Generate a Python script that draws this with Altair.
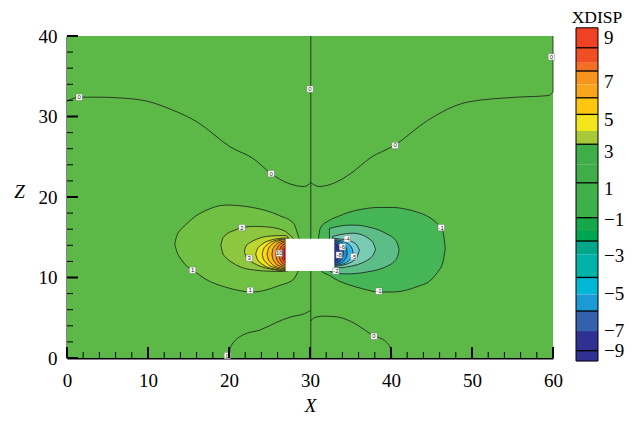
import altair as alt
import pandas as pd

# ------------------------------------------------------------------ data
x_range = [0, 60]
z_range = [0, 40]
bg_color = "#5db947"

hole_x = [27.0, 33.0]
hole_z = [10.8, 14.8]

# filled contour bands, left lobe (positive XDISP), outermost first
L1_x = [13.3, 13.6, 14.0, 14.6, 15.7, 17.1, 19.6, 22.9, 26.2, 28.0, 28.6, 29.0]
L1_top = [14.2, 15.3, 15.9, 16.5, 17.5, 18.3, 19.0, 18.7, 17.7, 16.7, 15.0, 14.0]
L1_bot = [14.2, 13.1, 12.4, 11.6, 10.8, 9.8, 8.8, 8.2, 9.0, 9.8, 10.9, 11.5]

L2_x = [19.0, 19.2, 19.6, 20.5, 21.7, 23.0, 24.5, 26.6, 27.6, 28.2]
L2_top = [14.0, 14.8, 15.3, 15.8, 16.2, 16.35, 16.3, 15.9, 15.2, 14.5]
L2_bot = [14.0, 13.1, 12.5, 11.8, 11.2, 10.95, 10.8, 10.75, 10.9, 10.9]

L3_x = [21.9, 22.1, 22.7, 23.4, 24.1, 25.2, 26.2, 27.0, 27.3]
L3_top = [13.3, 13.9, 14.4, 14.75, 15.0, 15.15, 15.2, 15.2, 15.0]
L3_bot = [13.3, 12.6, 12.0, 11.6, 11.3, 11.05, 10.9, 10.85, 10.85]

L4_x = [23.3, 23.49, 24.04, 25.15, 27.0, 27.3]
L4_top = [12.9, 13.52, 14.1, 14.64, 14.9, 14.9]
L4_bot = [12.9, 12.28, 11.7, 11.16, 10.9, 10.9]

L5_x = [24.1, 24.25, 24.68, 25.55, 27.0, 27.3]
L5_top = [12.9, 13.49, 14.04, 14.55, 14.8, 14.8]
L5_bot = [12.9, 12.31, 11.76, 11.25, 11.0, 11.0]

L6_x = [24.7, 24.82, 25.16, 25.85, 27.0, 27.3]
L6_top = [12.9, 13.46, 13.98, 14.47, 14.7, 14.7]
L6_bot = [12.9, 12.34, 11.82, 11.33, 11.1, 11.1]

L7_x = [25.3, 25.39, 25.64, 26.15, 27.0, 27.3]
L7_top = [12.9, 13.41, 13.89, 14.34, 14.55, 14.55]
L7_bot = [12.9, 12.39, 11.91, 11.46, 11.25, 11.25]

L8_x = [25.8, 25.86, 26.04, 26.4, 27.0, 27.3]
L8_top = [12.9, 13.37, 13.8, 14.2, 14.4, 14.4]
L8_bot = [12.9, 12.43, 12.0, 11.6, 11.4, 11.4]

L9_x = [26.2, 26.24, 26.36, 26.6, 27.0, 27.3]
L9_top = [12.9, 13.3, 13.68, 14.03, 14.2, 14.2]
L9_bot = [12.9, 12.5, 12.12, 11.77, 11.6, 11.6]

L10_x = [26.55, 26.57, 26.64, 26.78, 27.0, 27.3]
L10_top = [12.9, 13.23, 13.53, 13.81, 13.95, 13.95]
L10_bot = [12.9, 12.57, 12.27, 11.99, 11.85, 11.85]

L11_x = [26.8, 26.81, 26.84, 26.9, 27.0, 27.3]
L11_top = [12.9, 13.15, 13.38, 13.6, 13.7, 13.7]
L11_bot = [12.9, 12.65, 12.42, 12.2, 12.1, 12.1]

# right lobe (negative XDISP), outermost first
R1_x = [31.0, 31.3, 32.4, 33.5, 34.8, 36.5, 38.5, 40.2, 41.8, 43.3, 44.7, 45.7, 46.4, 46.7]
R1_top = [14.5, 16.2, 17.1, 17.6, 18.1, 18.5, 18.7, 18.7, 18.5, 18.1, 17.5, 16.7, 15.7, 13.6]
R1_bot = [11.5, 10.9, 10.25, 9.6, 9.1, 8.6, 8.2, 8.2, 8.4, 8.9, 9.5, 10.6, 11.9, 13.6]

R2_x = [32.4, 33.5, 34.6, 35.7, 37.1, 38.5, 39.5, 40.4, 40.8, 41.0]
R2_top = [16.1, 16.35, 16.5, 16.5, 16.3, 15.9, 15.4, 14.8, 14.2, 13.4]
R2_bot = [10.8, 10.5, 10.45, 10.5, 10.7, 11.0, 11.4, 12.0, 12.6, 13.4]

R3_x = [32.8, 33.6, 34.5, 35.3, 36.4, 37.3, 37.8, 38.1]
R3_top = [15.1, 15.3, 15.45, 15.5, 15.3, 14.8, 14.3, 13.5]
R3_bot = [11.1, 11.2, 11.3, 11.45, 11.8, 12.3, 12.8, 13.5]

R4_x = [32.8, 33.6, 34.5, 35.3, 35.8, 36.1]
R4_top = [14.9, 14.8, 14.65, 14.4, 14.0, 13.4]
R4_bot = [11.3, 11.45, 11.65, 12.05, 12.55, 13.4]

R5_x = [32.6, 33.0, 34.15, 34.84, 35.19, 35.3]
R5_top = [14.7, 14.7, 14.49, 14.06, 13.6, 13.1]
R5_bot = [11.5, 11.5, 11.71, 12.14, 12.6, 13.1]

R6_x = [32.6, 33.0, 33.8, 34.28, 34.52, 34.6]
R6_top = [14.6, 14.6, 14.4, 14.0, 13.57, 13.1]
R6_bot = [11.6, 11.6, 11.8, 12.2, 12.63, 13.1]

R7_x = [32.6, 33.0, 33.55, 33.88, 34.05, 34.1]
R7_top = [14.45, 14.45, 14.27, 13.91, 13.52, 13.1]
R7_bot = [11.75, 11.75, 11.93, 12.29, 12.68, 13.1]

R8_x = [32.6, 33.0, 33.3, 33.48, 33.57, 33.6]
R8_top = [14.25, 14.25, 14.1, 13.79, 13.45, 13.1]
R8_bot = [11.95, 11.95, 12.1, 12.41, 12.75, 13.1]

band_names = ["L1", "L2", "L3", "L4", "L5", "L6", "L7", "L8", "L9", "L10", "L11",
              "R1", "R2", "R3", "R4", "R5", "R6", "R7", "R8"]
band_colors = ["#70c044", "#8dc63f", "#bcd631", "#ede51d", "#fcd90f", "#fbbd14",
               "#f9a31a", "#f6891f", "#f26722", "#ef4723", "#ed1c24",
               "#46b556", "#5cbd86", "#7acbb4", "#74cdd6", "#2db5e5", "#1e8fd2",
               "#2c57a8", "#2e3192"]

# open contour lines
lineA_x = [0.0, 1.5, 4.0, 6.6, 9.9, 12.8, 16.1, 20.2, 23.1, 25.2, 27.6, 29.3, 30.1]
lineA_z = [31.9, 32.4, 32.4, 32.3, 31.9, 30.9, 29.3, 26.2, 24.7, 22.9, 21.6, 21.3, 21.8]
lineB_x = [30.1, 31.1, 32.9, 35.0, 37.5, 40.4, 44.5, 49.5, 55.6, 59.4, 60.0]
lineB_z = [21.8, 21.3, 21.7, 22.9, 24.9, 26.4, 29.5, 31.8, 32.4, 32.6, 33.0]
lineD_x = [20.0, 20.2, 21.8, 23.9, 25.8, 27.6, 29.3, 30.1]
lineD_z = [0.0, 1.4, 2.9, 3.5, 4.4, 5.1, 5.5, 5.9]
lineE_x = [30.1, 30.5, 31.7, 33.4, 35.5, 37.7, 39.4, 40.0, 40.1]
lineE_z = [4.6, 5.0, 5.2, 5.1, 4.3, 2.85, 2.0, 1.0, 0.0]
vline_x = [30.1, 30.1, 60.0, 60.0]
vline_z = [0.0, 40.0, 33.0, 40.0]
vline_id = ["C", "C", "F", "F"]

# contour labels
lab_text = ["0", "0", "0", "0", "0", "0", "0", "1", "1", "2", "3", "10",
            "-1", "-1", "-4", "-5", "-2", "-8", "-6"]
lab_x = [1.5, 25.2, 30.0, 40.5, 59.8, 19.8, 37.9, 15.5, 22.6, 21.6, 22.5, 26.2,
         46.2, 38.5, 34.6, 35.4, 33.2, 33.6, 34.0]
lab_z = [32.4, 22.9, 33.4, 26.4, 37.4, 0.3, 2.7, 10.9, 8.4, 16.2, 12.4, 13.0,
         16.2, 8.3, 14.8, 12.6, 10.8, 12.8, 13.8]

# axis ticks
x_major = [0, 10, 20, 30, 40, 50, 60]
x_minor = [2, 4, 6, 8, 12, 14, 16, 18, 22, 24, 26, 28, 32, 34, 36, 38,
           42, 44, 46, 48, 52, 54, 56, 58]
z_major = [0, 10, 20, 30, 40]
z_minor = [2, 4, 6, 8, 12, 14, 16, 18, 22, 24, 26, 28, 32, 34, 36, 38]

# colour bar
leg_hi = [9.98, 8.86, 8.02, 7.56, 6.81, 6.06, 5.13, 4.2, 3.46, 2.34, 1.3,
          0.28, -0.65, -1.4, -1.96, -2.7, -4.0, -4.95, -5.88, -7.0, -8.1]
leg_lo = [8.86, 8.02, 7.56, 6.81, 6.06, 5.13, 4.2, 3.46, 2.34, 1.3, 0.28,
          -0.65, -1.4, -1.96, -2.7, -4.0, -4.95, -5.88, -7.0, -8.1, -8.68]
leg_colors = ["#ef4123", "#f04e23", "#f36f21", "#f7941d", "#f9a51b", "#fdc70f",
              "#f2e51b", "#a8ca3a", "#3fae49", "#3fae49", "#40b049", "#3cb049",
              "#16a74a", "#00a551", "#00a889", "#00b2a7", "#00b8d6", "#1b9ad6",
              "#3461ac", "#2e3192", "#2e3192"]
leg_sep = [8.86, 7.56, 6.06, 5.13, 3.46, 1.3, -0.65, -1.96, -4.0, -5.88, -8.1]
leg_lab = ["9", "7", "5", "3", "1", "\u22121", "\u22123", "\u22125", "\u22127", "\u22129"]
leg_lab_pos = [9.4, 6.94, 4.8, 3.03, 0.98, -0.78, -2.8, -4.93, -7.0, -8.12]
leg_title = "XDISP"

# ------------------------------------------------------------------ chart
W, H = 486, 322
SERIF = "Liberation Serif"

xs = alt.Scale(domain=x_range, nice=False, zero=False)
ys = alt.Scale(domain=z_range, nice=False, zero=False)

x_axis = alt.Axis(values=x_major, format="d", title="X", titleFont=SERIF,
                  titleFontSize=19, titleFontStyle="italic", titleFontWeight="normal",
                  titleColor="black", titleX=243, titleY=47, titleAlign="center",
                  titleBaseline="middle", labelFont=SERIF, labelFontSize=19,
                  labelColor="black", labelPadding=22, labelBaseline="middle",
                  labelFlush=False, labelOverlap=False, ticks=False, tickSize=0,
                  domainColor="black", domainWidth=2, grid=False)
y_axis = alt.Axis(values=z_major, format="d", title="Z", titleFont=SERIF,
                  titleFontSize=19, titleFontStyle="italic", titleFontWeight="normal",
                  titleColor="black", titleAngle=0, titleX=-48, titleY=155,
                  titleAlign="center", titleBaseline="middle", labelFont=SERIF,
                  labelFontSize=19, labelColor="black", labelPadding=10,
                  labelFlush=False, labelOverlap=False, ticks=False, tickSize=0,
                  domainColor="black", domainWidth=2, grid=False)


def X(f):
    return alt.X(f"{f}:Q", scale=xs, axis=x_axis)


def Y(f):
    return alt.Y(f"{f}:Q", scale=ys, axis=y_axis)


band_scale = alt.Scale(domain=band_names, range=band_colors)

layers = []

bg = pd.DataFrame({"x0": [x_range[0]], "x1": [x_range[1]],
                   "z0": [z_range[0]], "z1": [z_range[1]]})
layers.append(alt.Chart(bg).mark_rect(color=bg_color).encode(
    x=X("x0"), x2="x1:Q", y=Y("z0"), y2="z1:Q"))

bands = {
    "L1": (L1_x, L1_top, L1_bot), "L2": (L2_x, L2_top, L2_bot),
    "L3": (L3_x, L3_top, L3_bot), "L4": (L4_x, L4_top, L4_bot),
    "L5": (L5_x, L5_top, L5_bot), "L6": (L6_x, L6_top, L6_bot),
    "L7": (L7_x, L7_top, L7_bot), "L8": (L8_x, L8_top, L8_bot),
    "L9": (L9_x, L9_top, L9_bot), "L10": (L10_x, L10_top, L10_bot),
    "L11": (L11_x, L11_top, L11_bot),
    "R1": (R1_x, R1_top, R1_bot), "R2": (R2_x, R2_top, R2_bot),
    "R3": (R3_x, R3_top, R3_bot), "R4": (R4_x, R4_top, R4_bot),
    "R5": (R5_x, R5_top, R5_bot), "R6": (R6_x, R6_top, R6_bot),
    "R7": (R7_x, R7_top, R7_bot), "R8": (R8_x, R8_top, R8_bot),
}
for name in band_names:
    bx, bt, bb = bands[name]
    df = pd.DataFrame({"x": bx, "top": bt, "bot": bb, "lev": name})
    layers.append(
        alt.Chart(df).mark_area(stroke="#1a1a1a", strokeWidth=0.8,
                                interpolate="monotone").encode(
            x=X("x"), y=alt.Y("top:Q", scale=ys, axis=y_axis, stack=False),
            y2="bot:Q",
            color=alt.Color("lev:N", scale=band_scale, legend=None)))

curves = pd.concat([
    pd.DataFrame({"x": lineA_x, "z": lineA_z, "id": "A"}),
    pd.DataFrame({"x": lineB_x, "z": lineB_z, "id": "B"}),
    pd.DataFrame({"x": lineD_x, "z": lineD_z, "id": "D"}),
    pd.DataFrame({"x": lineE_x, "z": lineE_z, "id": "E"}),
])
layers.append(alt.Chart(curves).mark_line(color="#1a1a1a", strokeWidth=0.8,
                                          interpolate="monotone").encode(
    x=X("x"), y=Y("z"), detail="id:N"))
vlines = pd.DataFrame({"x": vline_x, "z": vline_z, "id": vline_id})
layers.append(alt.Chart(vlines).mark_line(color="#1a1a1a", strokeWidth=0.8).encode(
    x=X("x"), y=Y("z"), detail="id:N", order="z:Q"))

hole = pd.DataFrame({"x0": [hole_x[0]], "x1": [hole_x[1]],
                     "z0": [hole_z[0]], "z1": [hole_z[1]]})
layers.append(alt.Chart(hole).mark_rect(color="white").encode(
    x=X("x0"), x2="x1:Q", y=Y("z0"), y2="z1:Q"))

labs = pd.DataFrame({"t": lab_text, "x": lab_x, "z": lab_z})
layers.append(alt.Chart(labs).mark_square(size=40, color="white", opacity=1,
                                          stroke="#666666", strokeWidth=0.4).encode(
    x=X("x"), y=Y("z")))
layers.append(alt.Chart(labs).mark_text(font="Liberation Sans", fontSize=6,
                                        color="#222222").encode(
    x=X("x"), y=Y("z"), text="t:N"))

# inward ticks
layers.append(alt.Chart(pd.DataFrame({"v": x_major})).mark_rule(
    color="black", strokeWidth=2).encode(x=X("v"), y=alt.value(H), y2=alt.value(H - 11)))
layers.append(alt.Chart(pd.DataFrame({"v": x_minor})).mark_rule(
    color="black", strokeWidth=1).encode(x=X("v"), y=alt.value(H), y2=alt.value(H - 6)))
layers.append(alt.Chart(pd.DataFrame({"v": z_major})).mark_rule(
    color="black", strokeWidth=2).encode(y=Y("v"), x=alt.value(0), x2=alt.value(11)))
layers.append(alt.Chart(pd.DataFrame({"v": z_minor})).mark_rule(
    color="black", strokeWidth=1).encode(y=Y("v"), x=alt.value(0), x2=alt.value(6)))

main = alt.layer(*layers).properties(width=W, height=H)

# ------------------------------------------------------------------ colour bar
ly = alt.Scale(domain=[-8.51, 9.52], nice=False, zero=False)
leg_ids = [f"b{i:02d}" for i in range(len(leg_colors))]
leg_df = pd.DataFrame({"id": leg_ids, "lo": leg_lo, "hi": leg_hi})

leg_bands = alt.Chart(leg_df).mark_rect().encode(
    x=alt.value(0), x2=alt.value(22),
    y=alt.Y("lo:Q", scale=ly, axis=None), y2="hi:Q",
    color=alt.Color("id:N", scale=alt.Scale(domain=leg_ids, range=leg_colors), legend=None))
leg_lines = alt.Chart(pd.DataFrame({"v": leg_sep})).mark_rule(
    color="black", strokeWidth=1.3).encode(
    y=alt.Y("v:Q", scale=ly, axis=None), x=alt.value(0), x2=alt.value(22))
leg_frame = alt.Chart(pd.DataFrame({"lo": [leg_lo[-1]], "hi": [leg_hi[0]]})).mark_rect(
    filled=False, stroke="black", strokeWidth=1).encode(
    y=alt.Y("lo:Q", scale=ly, axis=None), y2="hi:Q", x=alt.value(0), x2=alt.value(22))
leg_text = alt.Chart(pd.DataFrame({"t": leg_lab, "p": leg_lab_pos})).mark_text(
    align="left", baseline="middle", font=SERIF, fontSize=19, color="black").encode(
    y=alt.Y("p:Q", scale=ly, axis=None), x=alt.value(28), text="t:N")
leg_head = alt.Chart(pd.DataFrame({"t": [leg_title]})).mark_text(
    align="center", baseline="middle", font=SERIF, fontSize=17.5, color="black").encode(
    x=alt.value(21), y=alt.value(-18), text="t:N")

legend = alt.layer(leg_bands, leg_lines, leg_frame, leg_text, leg_head).properties(
    width=22, height=H)

chart = alt.hconcat(main, legend, spacing=23, bounds="flush").resolve_scale(
    color="independent", y="independent"
).properties(
    padding={"left": 5, "top": 0, "right": 0, "bottom": 0}
).configure_view(stroke="transparent")

chart.save("out.html", embed_options={"renderer": "svg", "actions": False})
